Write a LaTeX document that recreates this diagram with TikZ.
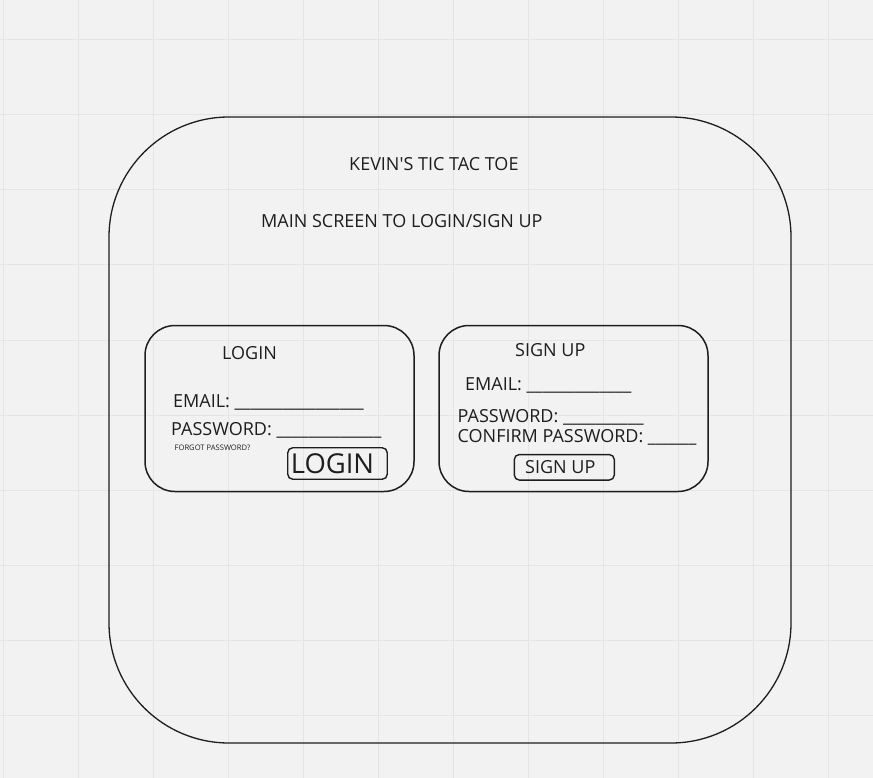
\documentclass[tikz,border=0pt]{standalone}
\usepackage{fontspec}
\setmainfont{Open Sans}
\usetikzlibrary{positioning}
\definecolor{canvas}{HTML}{F2F2F2}
\definecolor{gridline}{HTML}{E5E5E5}
\definecolor{ink}{HTML}{1E1E1E}

\begin{document}
\begin{tikzpicture}[x=1pt, y=-1pt,
        frame/.style={draw=ink, line width=1.3pt, rounded corners=#1, inner sep=0pt},
        label/.style={anchor=base west, inner sep=0pt, text=ink, font=\fontsize{18}{21}\selectfont},
        button/.style={frame=5pt, line width=1.4pt, text=ink}
    ]
        % canvas and grid
        \fill [canvas] (0,0) rectangle (873,778);
        \useasboundingbox (0,0) rectangle (873,778);
        \foreach \gx in {3,78,...,828} \draw [gridline, line width=1pt] (\gx,0) -- (\gx,778);
        \foreach \gy in {40,115,...,715} \draw [gridline, line width=1pt] (0,\gy) -- (873,\gy);

        % Screen
        \node [frame=120pt, minimum width=682pt, minimum height=626pt] (screen) at (450,430) {};
        \node [label] (title) at (349,171) {KEVIN\textquotesingle S TIC TAC TOE};
        \node [label] (subtitle) at (261,227.5) {MAIN SCREEN TO LOGIN/SIGN UP};

        % Login panel
        \node [frame=30pt, line width=1.5pt, minimum width=269pt, minimum height=166pt] (loginbox) at (279.5,408.5) {};
        \node [label] (loginhead) at (222,359) {LOGIN};
        \node [label] (loginmail) at (173,407) {EMAIL: \_\_\_\_\_\_\_\_\_\_\_\_\_\_\_\_};
        \node [label] (loginpass) at (171,435) {PASSWORD: \_\_\_\_\_\_\_\_\_\_\_\_\_};
        \node [label, font=\fontsize{7.6}{9}\selectfont] (forgot) at (174.5,450.7) {FORGOT PASSWORD?};
        \node [button, minimum width=99.5pt, minimum height=31.5pt, font=\fontsize{27.4}{31}\selectfont] (loginbtn) at (337.5,463.5) {LOGIN\hspace*{10pt}};

        % Sign up panel
        \node [frame=30pt, line width=1.5pt, minimum width=269pt, minimum height=166pt] (signupbox) at (573.5,408.5) {};
        \node [label] (signuphead) at (515,356) {SIGN UP};
        \node [label] (signupmail) at (465,390) {EMAIL: \_\_\_\_\_\_\_\_\_\_\_\_\_};
        \node [label] (signuppass) at (457.5,422.7) {PASSWORD: \_\_\_\_\_\_\_\_\_\_};
        \node [label] (signupconf) at (457.5,442.7) {CONFIRM PASSWORD: \_\_\_\_\_\_};
        \node [button, minimum width=100pt, minimum height=25.5pt, font=\fontsize{18}{21}\selectfont] (signupbtn) at (564.3,467.3) {SIGN UP\hspace*{8pt}};
    \end{tikzpicture}
\end{document}
